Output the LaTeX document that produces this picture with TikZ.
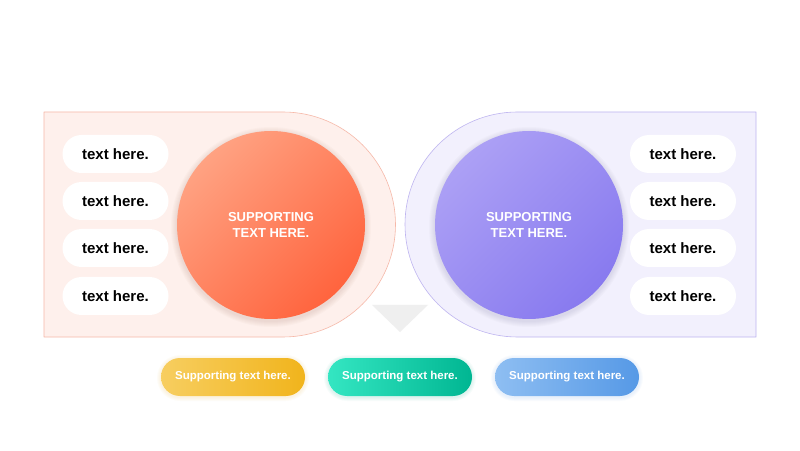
\documentclass[tikz,border=0pt]{standalone}
\usepackage{fontspec}
\setmainfont{Liberation Sans}

\definecolor{coralfondo}{RGB}{254,240,236}
\definecolor{coralborde}{RGB}{246,184,168}
\definecolor{coralclaro}{RGB}{255,162,130}
\definecolor{coraloscuro}{RGB}{255,100,62}
\definecolor{lilafondo}{RGB}{242,240,253}
\definecolor{lilaborde}{RGB}{190,180,240}
\definecolor{lilaclaro}{RGB}{172,160,245}
\definecolor{lilaoscuro}{RGB}{136,122,239}
\definecolor{amarilloclaro}{RGB}{247,206,96}
\definecolor{amarillooscuro}{RGB}{241,180,28}
\definecolor{verdeclaro}{RGB}{52,230,194}
\definecolor{verdeoscuro}{RGB}{0,182,146}
\definecolor{azulclaro}{RGB}{142,190,242}
\definecolor{azuloscuro}{RGB}{86,153,230}
\definecolor{gristri}{RGB}{239,239,239}

\begin{document}
\begin{tikzpicture}[x=1pt,y=1pt,line cap=round,line join=round,
    pastilla/.style={rectangle,rounded corners=19pt,minimum width=106pt,
        minimum height=38pt,fill=white,inner sep=0pt,
        font=\fontsize{15}{18}\selectfont\bfseries},
    circulo/.style={circle,minimum size=188pt,inner sep=0pt,text=white,
        align=center,font=\fontsize{13}{16}\selectfont\bfseries},
    etiqueta/.style={rectangle,rounded corners=19pt,minimum width=144pt,
        minimum height=38pt,inner sep=0pt,text=white,
        font=\fontsize{11.5}{14}\selectfont\bfseries}]
        \useasboundingbox[fill=white] (0,0) rectangle (800,450);
        \coordinate (CI) at (271,225);
        \coordinate (CD) at (529,225);

        % Paneles de fondo
        \filldraw[fill=coralfondo,draw=coralborde,line width=0.6pt]
            (44,113) -- (283,113) arc[start angle=-90,end angle=90,radius=112.5]
            -- (44,338) -- cycle;
        \filldraw[fill=lilafondo,draw=lilaborde,line width=0.6pt]
            (756,113) -- (517.5,113) arc[start angle=-90,end angle=-270,radius=112.5]
            -- (756,338) -- cycle;

        % Triangulo central
        \fill[gristri] (372,145) -- (428,145) -- (400,118) -- cycle;

        % Sombras suaves
        \foreach \d in {1,...,6} {
            \fill[coraloscuro!40!black,opacity=0.02] ([yshift=-2pt]CI) circle (94+\d);
            \fill[lilaoscuro!40!black,opacity=0.02] ([yshift=-2pt]CD) circle (94+\d);
        }

        % Circulos principales
        \node[circulo,top color=coralclaro,bottom color=coraloscuro,
            shading angle=45] (izq) at (CI) {SUPPORTING\\TEXT HERE.};
        \node[circulo,top color=lilaclaro,bottom color=lilaoscuro,
            shading angle=45] (der) at (CD) {SUPPORTING\\TEXT HERE.};

        % Pastillas de texto
        \foreach \y [count=\i] in {296,249,202,154} {
            \node[pastilla] (izq\i) at (115.5,\y) {text here.};
            \node[pastilla] (der\i) at (683,\y) {text here.};
        }

        % Etiquetas inferiores
        \foreach \x/\c in {233/amarillooscuro,400/verdeoscuro,567/azuloscuro}
            \foreach \d in {1,...,4}
                \fill[\c,opacity=0.03,rounded corners=19pt+\d pt]
                    (\x-72-\d,54-\d-1) rectangle (\x+72+\d,92+\d-1);
        \node[etiqueta,left color=amarilloclaro,right color=amarillooscuro]
            (amarilla) at (233,73) {Supporting text here.};
        \node[etiqueta,left color=verdeclaro,right color=verdeoscuro]
            (verde) at (400,73) {Supporting text here.};
        \node[etiqueta,left color=azulclaro,right color=azuloscuro]
            (azul) at (567,73) {Supporting text here.};

    \end{tikzpicture}
\end{document}
